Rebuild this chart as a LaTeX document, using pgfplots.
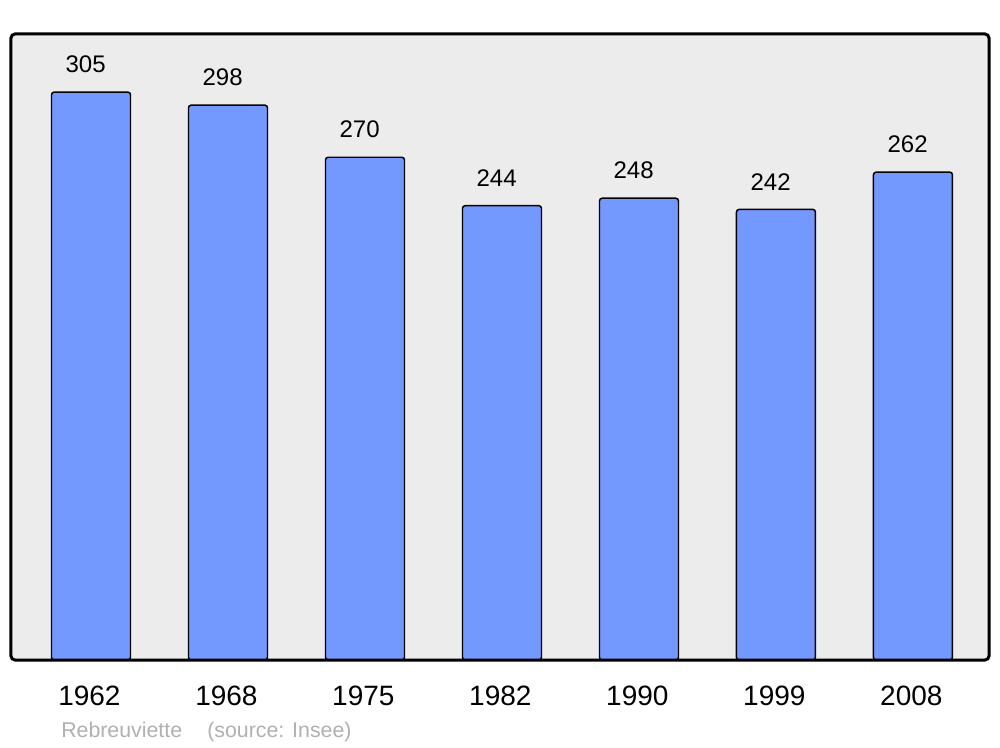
\documentclass[border=0pt]{standalone}
\usepackage{pgfplots}
\pgfplotsset{compat=1.18}
\usepackage{fontspec}
\setmainfont{Liberation Sans}
\definecolor{barblue}{HTML}{7399FF}
\definecolor{bgray}{HTML}{ECECEC}
\definecolor{footgray}{HTML}{B0B0B0}
\begin{document}
\begin{tikzpicture}[x=1pt,y=1pt]
\useasboundingbox (0,0) rectangle (750,560.25);
\begin{axis}[
  at={(8.25pt,65.25pt)}, anchor=south west,
  scale only axis,
  width=733.5pt, height=469.5pt,
  xmin=-0.584, xmax=6.555,
  ymin=0, ymax=336.2,
  axis lines=none,
  ytick=\empty,
  xtick={0,1,2,3,4,5,6},
  xticklabels={1962,1968,1975,1982,1990,1999,2008},
  ybar, bar width=59.25pt,
  clip=false,
  /pgf/number format/assume math mode=true,
]
\fill[bgray, rounded corners=3pt] (rel axis cs:0,0) rectangle (rel axis cs:1,1);
\addplot[draw=black, line width=1.1pt, fill=barblue, rounded corners=2pt,
  nodes near coords,
  every node near coord/.append style={anchor=base, yshift=14.5pt, xshift=-4pt, font=\fontsize{18}{18}\selectfont, text=black}]
  coordinates {(0,305) (1,298) (2,270) (3,244) (4,248) (5,242) (6,262)};
\draw[black, line width=2.25pt, rounded corners=3pt] (rel axis cs:0,0) rectangle (rel axis cs:1,1);
\foreach \i/\lab in {0/1962,1/1968,2/1975,3/1982,4/1990,5/1999,6/2008} {
  \edef\tmp{\noexpand\node[anchor=base, font=\noexpand\fontsize{21}{21}\noexpand\selectfont] at (axis cs:\i,0) [yshift=-33.75pt, xshift=-1.2pt] {\lab};}
  \tmp
}
\end{axis}
\node[anchor=base west, text=footgray, font=\fontsize{16}{16}\selectfont, inner sep=0pt] at (45.75,7.5) {Rebreuviette};
\node[anchor=base west, text=footgray, font=\fontsize{16}{16}\selectfont, inner sep=0pt] at (155.25,7.5) {(source: Insee)};
\end{tikzpicture}
\end{document}
